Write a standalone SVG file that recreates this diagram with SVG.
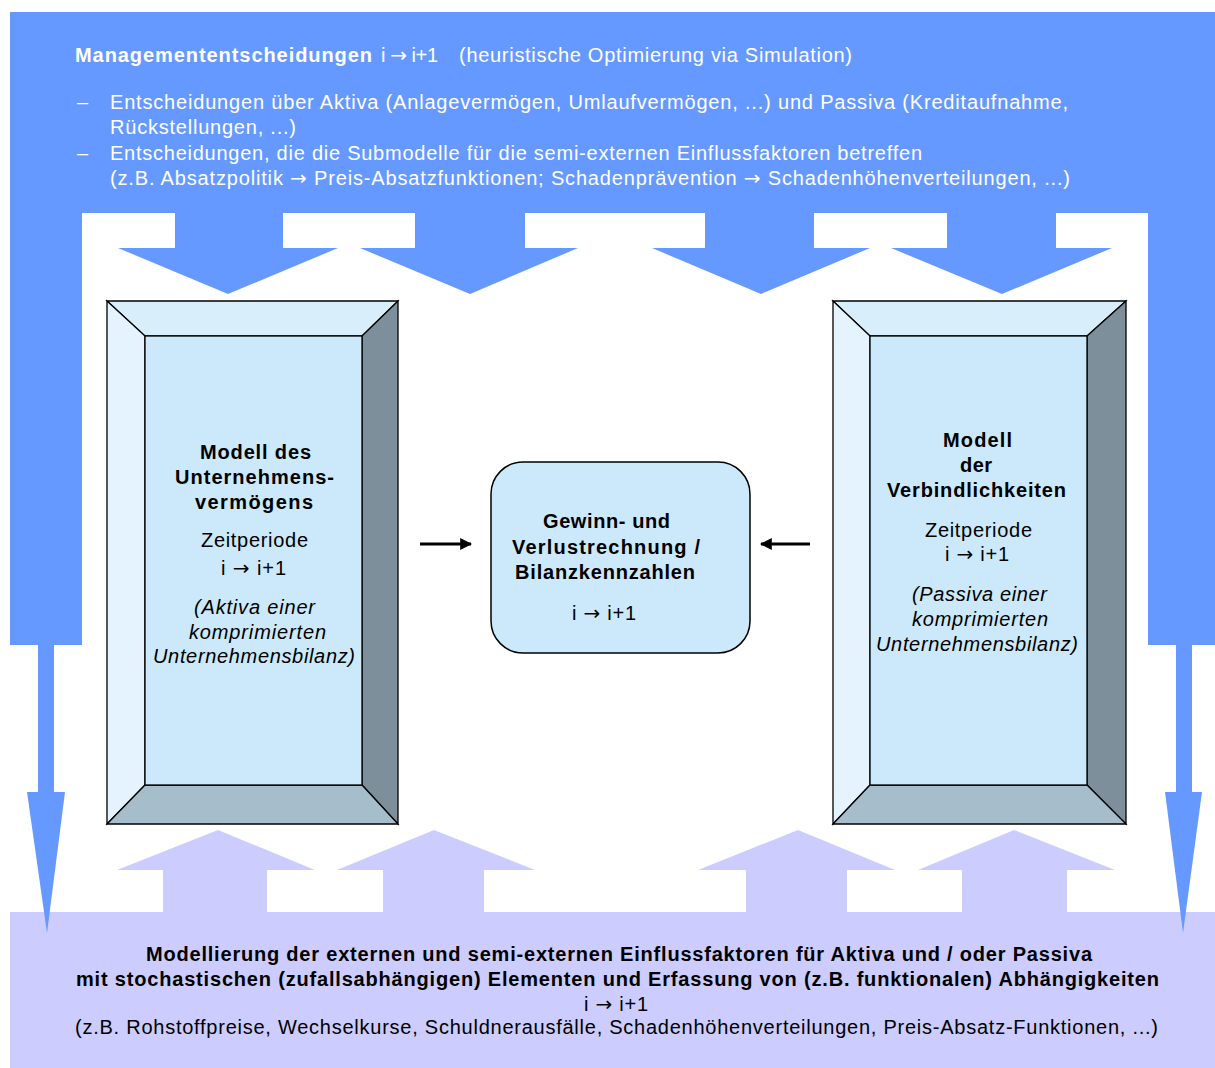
<svg xmlns="http://www.w3.org/2000/svg" width="1215" height="1068" viewBox="0 0 1215 1068">
<style>
.blue{fill:#6699FF}
.lav{fill:#CCCCFF}
.wt{fill:#FFFFFF;font-family:"Liberation Sans",Arial,sans-serif;font-size:20px}
.bk{fill:#000000;font-family:"Liberation Sans",Arial,sans-serif;font-size:20px}
.b{font-weight:bold}
.it{font-style:italic}
.ar{font-family:"DejaVu Sans",sans-serif;font-size:20px;font-style:normal}
.edge{stroke:#000;stroke-width:1.3;stroke-linejoin:miter}
.face{fill:#CCE8FB}
.bt{fill:#D8EEFB}
.bl{fill:#E4F3FD}
.br{fill:#7C8F9A}
.bb{fill:#A6BECB}
.conn{stroke:#000;stroke-width:3;fill:none}
</style>
<defs>
<marker id="ah" viewBox="0 0 10 10" refX="9" refY="5" markerWidth="4" markerHeight="4" orient="auto" markerUnits="strokeWidth">
<path d="M0,0 L10,5 L0,10 z" fill="#000"/>
</marker>
</defs>
<rect x="0" y="0" width="1215" height="1068" fill="#FFFFFF"/>

<g id="external-factors">
<rect class="lav" x="10" y="912" width="1205" height="156"/>
<rect class="lav" x="163" y="868" width="104" height="46"/>
<polygon class="lav" points="117,870 315,870 218,830"/>
<rect class="lav" x="383" y="868" width="101" height="46"/>
<polygon class="lav" points="337,870 535,870 434,830"/>
<rect class="lav" x="746" y="868" width="101" height="46"/>
<polygon class="lav" points="698,870 895,870 798,830"/>
<rect class="lav" x="962" y="868" width="105" height="46"/>
<polygon class="lav" points="918,870 1115,870 1014,830"/>
<text class="bk b" x="146" y="961" textLength="946">Modellierung der externen und semi-externen Einflussfaktoren für Aktiva und / oder Passiva</text>
<text class="bk b" x="76" y="986" textLength="1083">mit stochastischen (zufallsabhängigen) Elementen und Erfassung von (z.B. funktionalen) Abhängigkeiten</text>
<text class="bk" x="584" y="1011" textLength="64">i <tspan class="ar">→</tspan> i+1</text>
<text class="bk" x="75" y="1034" textLength="1083">(z.B. Rohstoffpreise, Wechselkurse, Schuldnerausfälle, Schadenhöhenverteilungen, Preis-Absatz-Funktionen, ...)</text>
</g>

<g id="management-decisions">
<rect class="blue" x="10" y="12" width="1205" height="201"/>
<rect class="blue" x="10" y="210" width="72" height="435"/>
<rect class="blue" x="1148" y="210" width="67" height="435"/>
<rect class="blue" x="175" y="210" width="108" height="39"/>
<rect class="blue" x="415" y="210" width="110" height="39"/>
<rect class="blue" x="705" y="210" width="109" height="39"/>
<rect class="blue" x="947" y="210" width="109" height="39"/>
<polygon class="blue" points="118,248 338,248 228,294"/>
<polygon class="blue" points="360,248 578,248 470,294"/>
<polygon class="blue" points="652,248 870,248 761,294"/>
<polygon class="blue" points="891,248 1112,248 1002,294"/>
<rect class="blue" x="38" y="643" width="16" height="151"/>
<polygon class="blue" points="27,792 65,792 47,933"/>
<rect class="blue" x="1176" y="643" width="16" height="151"/>
<polygon class="blue" points="1165,792 1202,792 1183,933"/>
<text class="wt b" x="75" y="62" textLength="297">Managemententscheidungen</text>
<text class="wt" x="381" y="62" textLength="57">i <tspan class="ar">→</tspan> i+1</text>
<text class="wt" x="459" y="62" textLength="393">(heuristische Optimierung via Simulation)</text>
<text class="wt" x="77" y="109">–</text>
<text class="wt" x="110" y="109" textLength="958">Entscheidungen über Aktiva (Anlagevermögen, Umlaufvermögen, ...) und Passiva (Kreditaufnahme,</text>
<text class="wt" x="110" y="134" textLength="186">Rückstellungen, ...)</text>
<text class="wt" x="77" y="160">–</text>
<text class="wt" x="110" y="160" textLength="812">Entscheidungen, die die Submodelle für die semi-externen Einflussfaktoren betreffen</text>
<text class="wt" x="110" y="185" textLength="960">(z.B. Absatzpolitik <tspan class="ar">→</tspan> Preis-Absatzfunktionen; Schadenprävention <tspan class="ar">→</tspan> Schadenhöhenverteilungen, ...)</text>
</g>

<g id="asset-model">
<polygon class="bt edge" points="107,301 398,301 362,336 145,336"/>
<polygon class="bl edge" points="107,301 145,336 145,785 107,824"/>
<polygon class="br edge" points="398,301 398,824 362,785 362,336"/>
<polygon class="bb edge" points="107,824 145,785 362,785 398,824"/>
<rect class="face edge" x="145" y="336" width="217" height="449"/>
<text class="bk b" x="200" y="459" textLength="111">Modell des</text>
<text class="bk b" x="175" y="484" textLength="159">Unternehmens-</text>
<text class="bk b" x="195" y="509" textLength="118">vermögens</text>
<text class="bk" x="201" y="547" textLength="107">Zeitperiode</text>
<text class="bk" x="221" y="575" textLength="65">i <tspan class="ar">→</tspan> i+1</text>
<text class="bk it" x="194" y="614" textLength="121">(Aktiva einer</text>
<text class="bk it" x="189" y="639" textLength="137">komprimierten</text>
<text class="bk it" x="153" y="663" textLength="202">Unternehmensbilanz)</text>
</g>

<g id="liabilities-model">
<polygon class="bt edge" points="833,301 1126,301 1087,336 870,336"/>
<polygon class="bl edge" points="833,301 870,336 870,785 833,824"/>
<polygon class="br edge" points="1126,301 1126,824 1087,785 1087,336"/>
<polygon class="bb edge" points="833,824 870,785 1087,785 1126,824"/>
<rect class="face edge" x="870" y="336" width="217" height="449"/>
<text class="bk b" x="943" y="447" textLength="69">Modell</text>
<text class="bk b" x="960" y="472" textLength="32">der</text>
<text class="bk b" x="887" y="497" textLength="179">Verbindlichkeiten</text>
<text class="bk" x="925" y="537" textLength="107">Zeitperiode</text>
<text class="bk" x="945" y="561" textLength="64">i <tspan class="ar">→</tspan> i+1</text>
<text class="bk it" x="912" y="601" textLength="135">(Passiva einer</text>
<text class="bk it" x="912" y="626" textLength="136">komprimierten</text>
<text class="bk it" x="876" y="651" textLength="202">Unternehmensbilanz)</text>
</g>

<g id="profit-loss">
<rect class="face" x="491" y="462" width="259" height="191" rx="32" ry="32" stroke="#000" stroke-width="1.5"/>
<text class="bk b" x="543" y="528" textLength="127">Gewinn- und</text>
<text class="bk b" x="512" y="554" textLength="188">Verlustrechnung /</text>
<text class="bk b" x="515" y="579" textLength="180">Bilanzkennzahlen</text>
<text class="bk" x="572" y="620" textLength="64">i <tspan class="ar">→</tspan> i+1</text>
</g>

<g id="connectors">
<line class="conn" x1="420" y1="544" x2="471" y2="544" marker-end="url(#ah)"/>
<line class="conn" x1="810" y1="544" x2="761" y2="544" marker-end="url(#ah)"/>
</g>
</svg>
